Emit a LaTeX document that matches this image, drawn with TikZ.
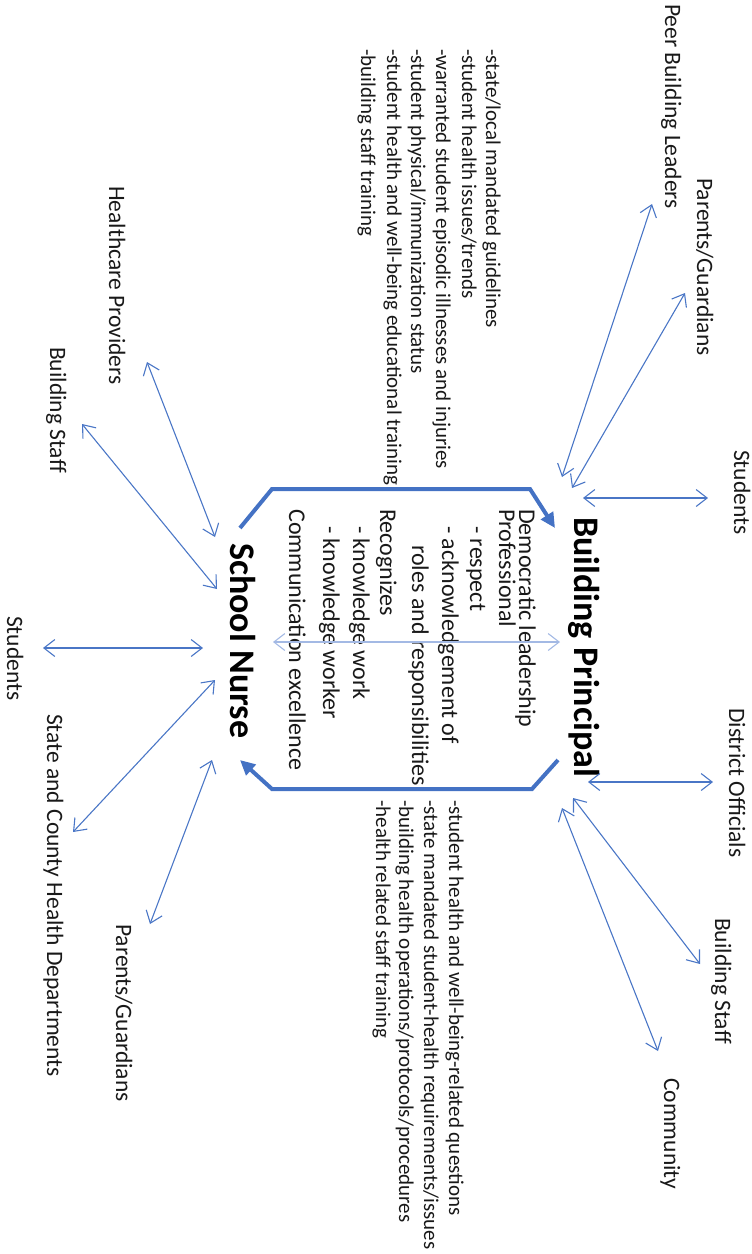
\documentclass[tikz,border=0pt]{standalone}
\usepackage{fontspec}
\setmainfont{Carlito}
\usetikzlibrary{arrows.meta}
\definecolor{linkblue}{HTML}{4A76C6}
\definecolor{paleblue}{HTML}{A3B9E4}
\definecolor{brackblue}{HTML}{4472C4}
\def\labfont{\fontsize{23.5}{28}\selectfont}
\def\notefont{\fontsize{21}{25}\selectfont}
\def\listfont{\fontsize{24}{29}\selectfont}
\def\headfont{\fontsize{36}{40}\selectfont\bfseries}

\begin{document}
\begin{tikzpicture}[x=1pt,y=-1pt,
  lab/.style={rotate=-90,anchor=base west,inner sep=0pt,font=\labfont,text=black!90},
  note/.style={rotate=-90,anchor=base west,inner sep=0pt,font=\notefont,text=black!90},
  listline/.style={rotate=-90,anchor=base west,inner sep=0pt,font=\listfont,text=black!90},
  headline/.style={rotate=-90,anchor=base west,inner sep=0pt,font=\headfont},
  link/.style={draw=linkblue,line width=1.1pt,>={Straight Barb[length=11pt,width=17pt]},<->},
  bracket/.style={draw=brackblue,line width=4pt,line join=miter,-{Triangle[length=15pt,width=14pt]}}]

\useasboundingbox (0,0) rectangle (752,1254);

% the two roles
\node[headline] (bp) at (574,517) {Building Principal};
\node[headline] (sn) at (230,543) {School Nurse};

% principal side
\node[lab] (peer) at (665,4) {Peer Building Leaders};
\node[lab] (parR) at (697,178) {Parents/Guardians};
\node[lab] (stuR) at (734,450) {Students};
\node[lab] (dist) at (729,708) {District Officials};
\node[lab] (staffR) at (715,918) {Building Staff};
\node[lab] (comm) at (664,1078) {Community};

% nurse side
\node[lab] (care) at (109,186) {Healthcare Providers};
\node[lab] (staffL) at (50,347) {Building Staff};
\node[lab] (stuL) at (7,616) {Students};
\node[lab] (state) at (47,714) {State and County Health Departments};
\node[lab] (parL) at (116,924) {Parents/Guardians};

% arrow ends
\coordinate (bp-peer) at (562,477);  \coordinate (peer-in) at (652,204);
\coordinate (bp-par) at (572,488);   \coordinate (parR-in) at (685,293);
\coordinate (bp-stu) at (583,498);   \coordinate (stuR-in) at (708,498);
\coordinate (bp-dist) at (588,782);  \coordinate (dist-in) at (713,782);
\coordinate (bp-staff) at (573,798); \coordinate (staffR-in) at (700,964);
\coordinate (bp-comm) at (562,808);  \coordinate (comm-in) at (658,1051);
\coordinate (sn-care) at (215,537);  \coordinate (care-in) at (147,362);
\coordinate (sn-staff) at (217,589); \coordinate (staffL-in) at (82,424);
\coordinate (sn-stu) at (203,648);   \coordinate (stuL-in) at (43,648);
\coordinate (sn-state) at (215,680); \coordinate (state-in) at (73,832);
\coordinate (sn-par) at (212,760);   \coordinate (parL-in) at (150,924);

\draw[link] (bp-peer) -- (peer-in);
\draw[link] (bp-par) -- (parR-in);
\draw[link] (bp-stu) -- (stuR-in);
\draw[link] (bp-dist) -- (dist-in);
\draw[link] (bp-staff) -- (staffR-in);
\draw[link] (bp-comm) -- (comm-in);
\draw[link] (sn-care) -- (care-in);
\draw[link] (sn-staff) -- (staffL-in);
\draw[link] (sn-stu) -- (stuL-in);
\draw[link] (sn-state) -- (state-in);
\draw[link] (sn-par) -- (parL-in);

% nurse -> principal notes
\foreach \xx/\t [count=\i] in {486/{-state/local mandated guidelines},
    462/{-student health issues/trends},
    436/{-warranted student episodic illnesses and injuries},
    411/{-student physical/immunization status},
    387/{-student health and well-being educational training},
    361/{-building staff training}}
  \node[note] (up\i) at (\xx,49) {\t};

% principal -> nurse notes
\foreach \xx/\t [count=\i] in {449/{-student health and well-being-related questions},
    424/{-state mandated student-health requirements/issues},
    399/{-building health operations/protocols/procedures},
    376/{-health related staff training}}
  \node[note] (down\i) at (\xx,800) {\t};

% what the relationship rests on
\foreach \xx/\yy/\t [count=\i] in {519/509/{Democratic leadership},
    499/509/{Professional},
    470/526/{- respect},
    442/526/{- acknowledgement of},
    412/545/{roles and responsibilities},
    380/509/{Recognizes},
    353/526/{- knowledge work},
    323/526/{- knowledge worker},
    289/509/{Communication excellence}}
  \node[listline] (core\i) at (\xx,\yy) {\t};

% brackets and middle link
\coordinate (sn-up) at (240,528);   \coordinate (bp-up) at (555,528);
\coordinate (bp-down) at (558,760); \coordinate (sn-down) at (240,760);
\coordinate (sn-mid) at (273,642);  \coordinate (bp-mid) at (560,642);

\draw[bracket] (sn-up) -- ++(32,-39) -- ++(258,0) -- (bp-up);
\draw[bracket] (bp-down) -- ++(-26,29) -- ++(-260,0) -- (sn-down);
\draw[link,draw=paleblue] (sn-mid) -- (bp-mid);

\end{tikzpicture}
\end{document}
